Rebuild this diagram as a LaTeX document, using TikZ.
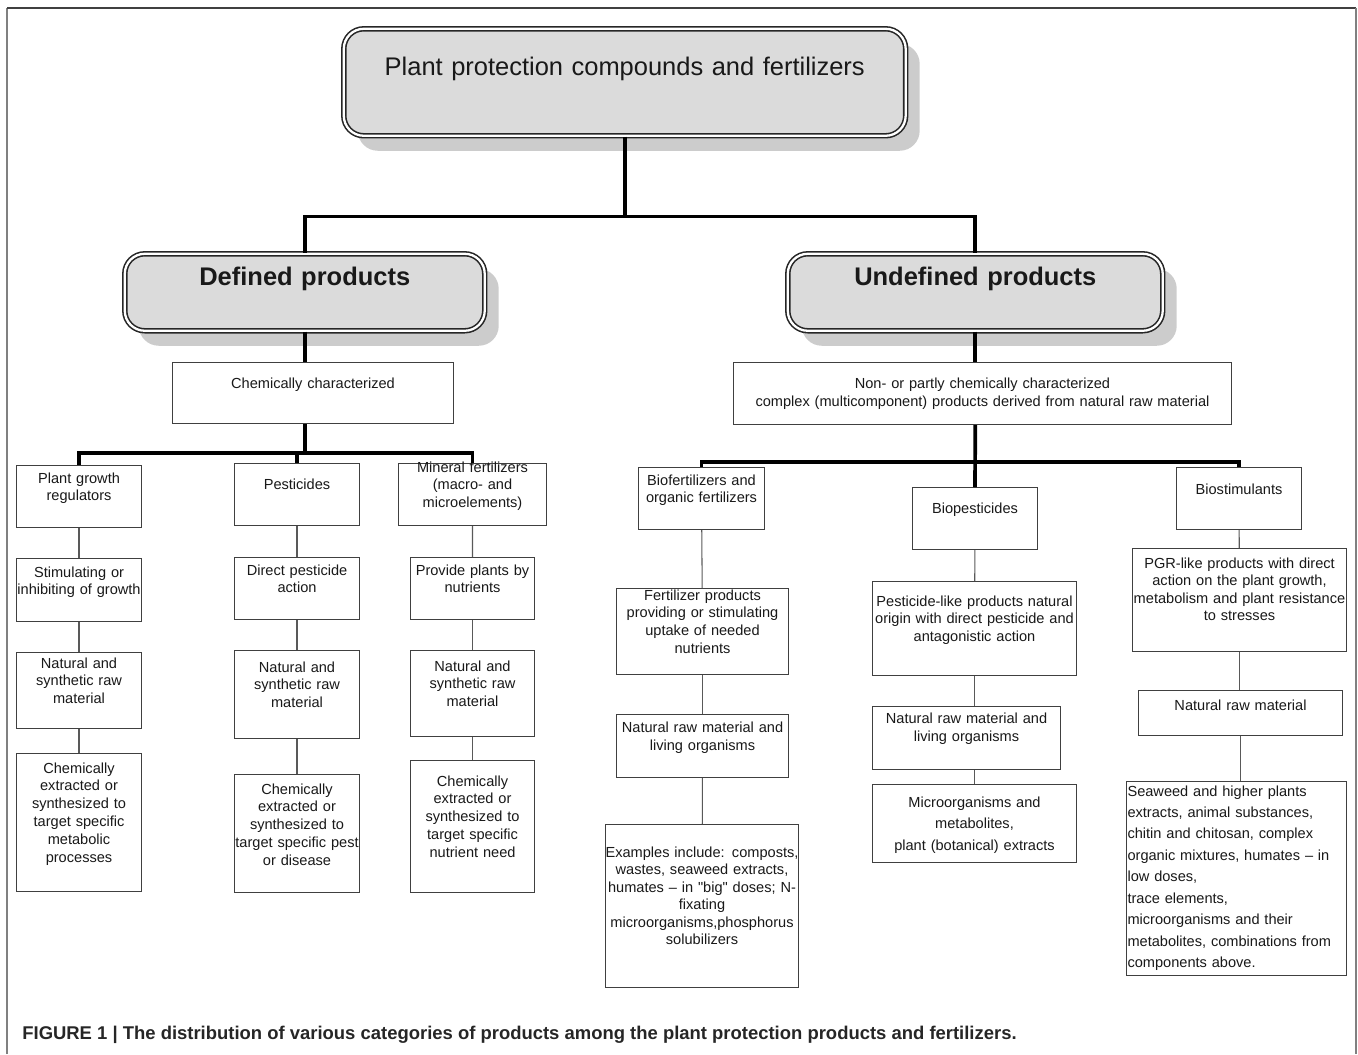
\documentclass[tikz,border=0pt]{standalone}
\usepackage{fontspec}
\setmainfont{Liberation Sans}
\usetikzlibrary{shadows}

\begin{document}
\begin{tikzpicture}[x=0.02cm,y=-0.02cm]

\tikzset{head/.style = {draw=black!85, double=white, double distance=1.3pt, line width=0.9pt, fill=black!14, rounded corners=0.4cm, inner sep=0pt, align=center, anchor=north west, text=black!90, font=\fontsize{14.5}{17}\selectfont, drop shadow={shadow xshift=0.28cm, shadow yshift=-0.3cm, fill=black!20, opacity=1}}}
\tikzset{headb/.style = {head, font=\fontsize{14.5}{17}\selectfont\bfseries}}
\tikzset{item/.style = {draw=black!75, line width=0.6pt, fill=white, inner sep=0pt, align=center, anchor=north west, text=black!90, font=\fontsize{8.3}{10.2}\selectfont}}
\tikzset{sz/.style n args = {3}{text width=#1cm, text height=#2cm, text depth=#3cm}}
\tikzset{trunk/.style = {line width=2.1pt}}
\tikzset{link/.style = {draw=black!65, line width=0.6pt}}

\useasboundingbox (0,0) rectangle (1358,1054);

% frame
\draw[black!50, line width=1.1pt] (7,1054) -- (7,8);
\draw[black!75, line width=1.1pt] (7,8) -- (1356,8);
\draw[black!50, line width=1.1pt] (1356,8) -- (1356,1054);

% headings
\node[head, sz={11.24}{0.94}{1.2}] (top) at (343,28) {Plant protection compounds and fertilizers};
\node[headb, sz={7.2}{0.64}{0.9}] (def) at (124,253) {Defined products};
\node[headb, sz={7.5}{0.64}{0.9}] (undef) at (787,253) {Undefined products};

% defined products
\node[item, sz={5.62}{0.52}{0.7}] (chem) at (172,362) {Chemically characterized};
\node[item, sz={2.5}{0.35}{0.89}] (pgr) at (16,465) {Plant growth\\regulators};
\node[item, sz={2.5}{0.37}{0.89}] (stim) at (16,558) {Stimulating or\\inhibiting of growth};
\node[item, sz={2.5}{0.31}{1.21}] (nat1) at (16,652) {Natural and\\synthetic raw\\material};
\node[item, sz={2.5}{0.39}{2.37}] (chm1) at (16,753) {Chemically\\extracted or\\synthesized to\\target specific\\metabolic\\processes};

\node[item, sz={2.5}{0.51}{0.73}] (pest) at (234,463) {Pesticides};
\node[item, sz={2.5}{0.35}{0.89}] (dir) at (234,557) {Direct pesticide\\action};
\node[item, sz={2.5}{0.43}{1.33}] (nat2) at (234,650) {Natural and\\synthetic raw\\material};
\node[item, sz={2.5}{0.39}{1.97}] (chm2) at (234,774) {Chemically\\extracted or\\synthesized to\\target specific pest\\or disease};

\node[item, sz={2.96}{0.17}{1.07}] (mine) at (398,463) {Mineral fertilizers\\(macro- and\\microelements)};
\node[item, sz={2.48}{0.35}{0.89}] (prov) at (410,557) {Provide plants by\\nutrients};
\node[item, sz={2.48}{0.41}{1.31}] (nat3) at (410,650) {Natural and\\synthetic raw\\material};
\node[item, sz={2.48}{0.51}{2.13}] (chm3) at (410,760) {Chemically\\extracted or\\synthesized to\\target specific\\nutrient need};

% undefined products
\node[item, sz={9.96}{0.52}{0.72}] (nonchem) at (733,362) {Non- or partly chemically characterized\\complex (multicomponent) products derived from natural raw material};
\node[item, sz={2.52}{0.35}{0.89}] (biof) at (638,467) {Biofertilizers and\\organic fertilizers};
\node[item, sz={3.44}{0.23}{1.49}] (fert) at (616,588) {Fertilizer products\\providing or stimulating\\uptake of needed\\nutrients};
\node[item, sz={3.44}{0.36}{0.9}] (nat4) at (616,714) {Natural raw material and\\living organisms};
\node[item, sz={3.86}{0.65}{2.61}, font=\fontsize{8.3}{10}\selectfont] (exa) at (605,824) {Examples include: composts,\\wastes, seaweed extracts,\\humates – in \textquotedbl big\textquotedbl{} doses; N-\\fixating\\microorganisms,phosphorus\\solubilizers};

\node[item, sz={2.5}{0.51}{0.73}] (biop) at (912,487) {Biopesticides};
\node[item, sz={4.08}{0.49}{1.39}] (pestl) at (872,581) {Pesticide-like products natural\\origin with direct pesticide and\\antagonistic action};
\node[item, sz={3.76}{0.34}{0.92}] (nat5) at (872,706) {Natural raw material and\\living organisms};
\node[item, sz={4.08}{0.45}{1.11}, font=\fontsize{8.3}{12.5}\selectfont] (micr) at (872,784) {Microorganisms and\\metabolites,\\plant (botanical) extracts};

\node[item, sz={2.5}{0.53}{0.71}] (bios) at (1176,467) {Biostimulants};
\node[item, sz={4.28}{0.39}{1.67}, font=\fontsize{8.3}{10}\selectfont] (pgrl) at (1132,548) {PGR-like products with direct\\action on the plant growth,\\metabolism and plant resistance\\to stresses};
\node[item, sz={4.08}{0.4}{0.5}] (nat6) at (1138,690) {Natural raw material};
\node[item, sz={4.36}{0.29}{3.59}, align=left, inner xsep=0.02cm, font=\fontsize{8.3}{12.2}\selectfont] (seaw) at (1126,781) {Seaweed and higher plants\\extracts, animal substances,\\chitin and chitosan, complex\\organic mixtures, humates – in\\low doses,\\trace elements,\\microorganisms and their\\metabolites, combinations from\\components above.};

% caption
\node[font=\fontsize{10.5}{12}\selectfont\bfseries, text=black!85, anchor=base west, inner sep=0pt] (cap) at (22,1039) {FIGURE 1 | The distribution of various categories of products among the plant protection products and fertilizers.};

% trunk lines
\draw[trunk] (top.south) -- ++(0,80) -| (def.north);
\draw[trunk] (top.south) ++(0,80) -| (undef.north);
\draw[trunk] (def.south) -- (def.south |- chem.north);
\draw[trunk] (def.south |- chem.south) -- ++(0,29) coordinate (dsplit);
\draw[trunk] (pgr.north) |- (dsplit) -| (mine.north);
\draw[trunk] (dsplit -| pest.north) -- (pest.north);
\draw[trunk] (undef.south) -- (undef.south |- nonchem.north);
\draw[trunk] (undef.south |- nonchem.south) -- (biop.north);
\path (undef.south |- nonchem.south) ++(0,37) coordinate (usplit);
\draw[trunk] (biof.north) |- (usplit) -| (bios.north);

% links
\draw[link] (pgr) -- (stim);
\draw[link] (stim) -- (nat1);
\draw[link] (nat1) -- (chm1);
\draw[link] (pest) -- (dir);
\draw[link] (dir) -- (nat2);
\draw[link] (nat2) -- (chm2);
\draw[link] (mine) -- (prov);
\draw[link] (prov) -- (nat3);
\draw[link] (nat3) -- (chm3);
\draw[link] (biof) -- (fert);
\draw[link] (fert) -- (nat4);
\draw[link] (nat4) -- (exa);
\draw[link] (biop) -- (pestl);
\draw[link] (pestl.south) -- (pestl.south |- nat5.north);
\draw[link] (nat5.south -| micr.north) -- (micr.north);
\draw[link] (bios) -- (pgrl);
\draw[link] (pgrl.south) -- (pgrl.south |- nat6.north);
\draw[link] (nat6.south) -- (nat6.south |- seaw.north);
\end{tikzpicture}
\end{document}
